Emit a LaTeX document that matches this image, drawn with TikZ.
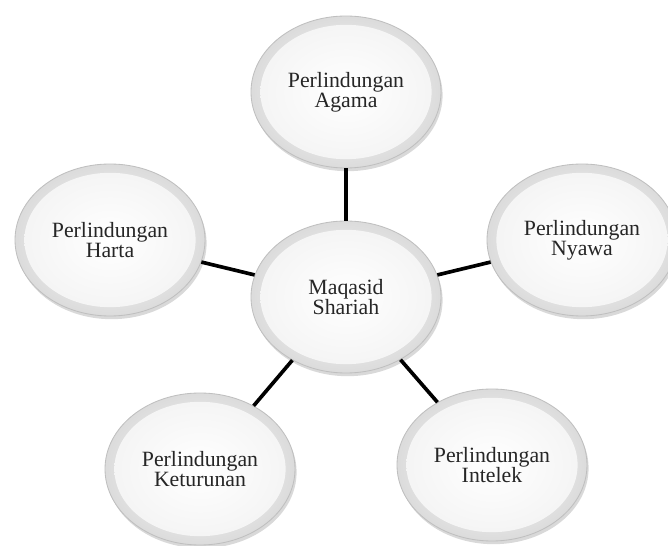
\documentclass[tikz,border=0pt]{standalone}
\usepackage{fontspec}
\setmainfont{Liberation Serif}
\usetikzlibrary{shapes, shadows, positioning}

\begin{document}
\begin{tikzpicture}[
  gbox/.style={ellipse, draw=gray!50, line width=0.6pt, minimum width=4.75cm, minimum height=3.8cm, inner sep=0pt,
    align=center, font=\fontsize{15.5}{14.5}\selectfont, text=black!85,
    inner color=white, outer color=gray!28,
    drop shadow={opacity=0.3, shadow xshift=0.04cm, shadow yshift=-0.08cm},
    path picture={\shade[inner color=white, outer color=gray!9] (path picture bounding box.center) ellipse [x radius=2.14cm, y radius=1.68cm];}},
  link/.style={line width=2.6pt, black}
]
  \useasboundingbox (-8.65, -6.225) rectangle (8.05, 7.425);
  \node[gbox] (maqasid) at (0, 0) {Maqasid\\Shariah};
  \node[gbox] (agama) at (0, 5.125) {Perlindungan\\Agama};
  \node[gbox] (harta) at (-5.9, 1.425) {Perlindungan\\Harta};
  \node[gbox] (nyawa) at (5.9, 1.425) {Perlindungan\\Nyawa};
  \node[gbox] (keturunan) at (-3.65, -4.3) {Perlindungan\\Keturunan};
  \node[gbox] (intelek) at (3.65, -4.2) {Perlindungan\\Intelek};

  \draw[link] (maqasid) -- (agama);
  \draw[link] (maqasid) -- (harta);
  \draw[link] (maqasid) -- (nyawa);
  \draw[link] (maqasid) -- (keturunan);
  \draw[link] (maqasid) -- (intelek);
\end{tikzpicture}
\end{document}
